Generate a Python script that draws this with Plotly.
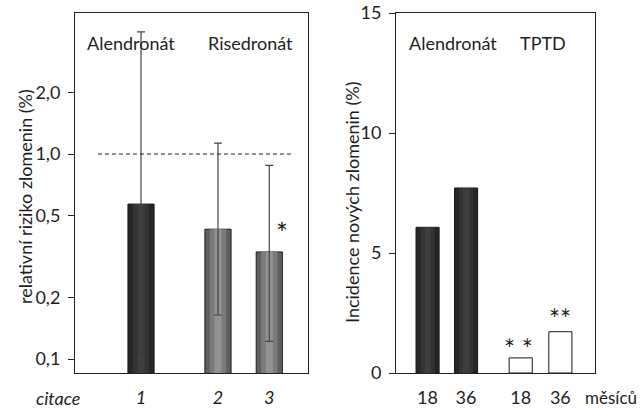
import plotly.graph_objects as go

# ---------------- data ----------------
left_citations = ["1", "2", "3"]
left_drugs = ["Alendronát", "Risedronát", "Risedronát"]
left_rr = [0.57, 0.43, 0.333]
left_ci_low = [0.10, 0.164, 0.122]
left_ci_high = [3.94, 1.13, 0.88]
left_yticks = [0.1, 0.2, 0.5, 1.0, 2.0]
left_yticklabels = ["0,1", "0,2", "0,5", "1,0", "2,0"]
reference_rr = 1.0

right_months = ["18", "36", "18", "36"]
right_groups = ["Alendronát", "Alendronát", "TPTD", "TPTD"]
right_incidence = [6.07, 7.71, 0.63, 1.72]
right_yticks = [0, 5, 10, 15]

# ---------------- layout helpers ----------------
W, H = 642, 408
def px(x):
    return x / W
def py(y):
    return 1 - y / H

FONT = "Lato"
FS = 18
TXT = "#1e1e1e"
left_pos = [1, 2.5, 3.5]
right_pos = [1, 2, 3.42, 4.45]

fig = go.Figure()

# left bars: layered to imitate the gradient shading
left_outer = ["#262626", "#5f5f5f", "#5f5f5f"]
left_mid = ["#333333", "#7a7a7a", "#7a7a7a"]
left_inner = ["#3e3e3e", "#929292", "#929292"]
fig.add_trace(go.Bar(x=left_pos, y=left_rr, width=0.51, marker=dict(color=left_outer, line=dict(color="#1a1a1a", width=1)),
                     xaxis="x", yaxis="y", hoverinfo="skip"))
fig.add_trace(go.Bar(x=left_pos, y=left_rr, width=0.32, marker=dict(color=left_mid, line=dict(width=0)),
                     xaxis="x", yaxis="y", hoverinfo="skip"))
err_plus = [h - v for h, v in zip(left_ci_high, left_rr)]
err_minus = [v - l for v, l in zip(left_rr, left_ci_low)]
fig.add_trace(go.Bar(x=left_pos, y=left_rr, width=0.14, marker=dict(color=left_inner, line=dict(width=0)),
                     error_y=dict(type="data", array=err_plus, arrayminus=err_minus, symmetric=False,
                                  color="#444444", thickness=1.2, width=4),
                     xaxis="x", yaxis="y", hoverinfo="skip"))

# right bars
right_outer = ["#262626", "#262626", "#ffffff", "#ffffff"]
right_mid = ["#333333", "#333333"]
right_inner = ["#3e3e3e", "#3e3e3e"]
fig.add_trace(go.Bar(x=right_pos, y=right_incidence, width=0.6, marker=dict(color=right_outer, line=dict(color="#1a1a1a", width=1)),
                     xaxis="x2", yaxis="y2", hoverinfo="skip"))
fig.add_trace(go.Bar(x=right_pos[:2], y=right_incidence[:2], width=0.36, marker=dict(color=right_mid, line=dict(width=0)),
                     xaxis="x2", yaxis="y2", hoverinfo="skip"))
fig.add_trace(go.Bar(x=right_pos[:2], y=right_incidence[:2], width=0.16, marker=dict(color=right_inner, line=dict(width=0)),
                     xaxis="x2", yaxis="y2", hoverinfo="skip"))

ydom = [py(373), py(13)]
axis_common = dict(showgrid=False, zeroline=False, showline=True, linecolor="#222222", linewidth=1, mirror=True,
                   automargin=False)
fig.update_layout(
    width=W, height=H, margin=dict(l=0, r=0, t=0, b=0),
    paper_bgcolor="white", plot_bgcolor="white", showlegend=False, barmode="overlay",
    font=dict(family=FONT, size=FS, color=TXT),
    xaxis=dict(domain=[px(75), px(308)], range=[-0.287, 4.255], tickvals=left_pos, ticktext=left_citations,
               ticks="", tickfont=dict(size=FS, color=TXT, style="italic"), ticklabelstandoff=8, **axis_common),
    yaxis=dict(domain=ydom, type="log", range=[-1.068, 0.688], tickvals=left_yticks, ticktext=left_yticklabels,
               ticks="outside", ticklen=6, tickcolor="#222222", tickfont=dict(size=FS, color=TXT), ticklabelstandoff=4,
               **axis_common),
    xaxis2=dict(domain=[px(396), px(595)], range=[0.18, 5.35], tickvals=right_pos, ticktext=right_months,
                ticks="", tickfont=dict(size=FS, color=TXT), ticklabelstandoff=8, anchor="y2", **axis_common),
    yaxis2=dict(domain=ydom, range=[0, 15], tickvals=right_yticks, ticks="outside", ticklen=6, tickcolor="#222222",
                tickfont=dict(size=FS, color=TXT), ticklabelstandoff=4, anchor="x2", **axis_common),
)

# reference line at RR = 1
fig.add_shape(type="line", xref="x", yref="y", x0=0.16, x1=3.98, y0=reference_rr, y1=reference_rr,
              line=dict(color="#222222", width=1, dash="4px,3px"))

ann = []
def a(text, x, y, size=FS, angle=0, style="normal", anchor="center"):
    ann.append(dict(text=text, x=px(x), y=py(y), xref="paper", yref="paper", showarrow=False,
                    textangle=angle, font=dict(size=size, family=FONT, color=TXT, style=style),
                    xanchor=anchor, yanchor="middle"))

a(left_drugs[0], 131, 43)
a(left_drugs[1], 250, 43)
a("*", 282, 233, size=28)
a("citace", 58, 398, style="italic")
a("relativní riziko zlomenin (%)", 25, 197, angle=-90)

a(right_groups[0], 453, 43)
a(right_groups[2], 543, 43)
a("* *", 518, 349, size=26)
a("**", 560, 319, size=26)
a("měsíců", 639, 397, size=17, anchor="right")
a("Incidence nových zlomenin (%)", 352, 202, angle=-90)

fig.update_layout(annotations=ann)
fig.write_html("out.html", config={"displayModeBar": False, "staticPlot": True},
               post_script="document.body.style.margin='0';document.body.style.overflow='hidden';")
